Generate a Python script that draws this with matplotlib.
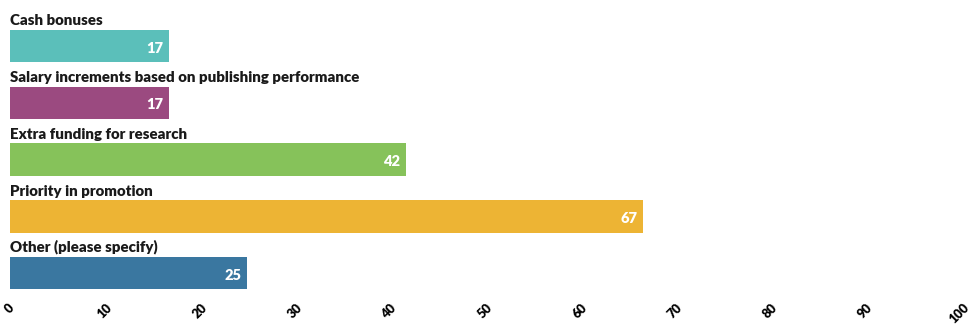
import matplotlib
matplotlib.use("Agg")
import matplotlib.pyplot as plt

# Survey answers (percent of respondents)
categories = [
    "Cash bonuses",
    "Salary increments based on publishing performance",
    "Extra funding for research",
    "Priority in promotion",
    "Other (please specify)",
]
values = [16.7, 16.7, 41.7, 66.7, 25.0]
value_labels = ["17", "17", "42", "67", "25"]
colors = ["#5BBFBA", "#9B4A80", "#86C25A", "#EDB434", "#3A77A0"]
xticks = [0, 10, 20, 30, 40, 50, 60, 70, 80, 90, 100]

plt.rcParams["font.family"] = ["Lato", "DejaVu Sans"]

fig = plt.figure(figsize=(9.72, 3.27), dpi=100)
ax = fig.add_axes([0.0103, 0.095, 0.9770, 0.895])

positions = list(range(len(categories)))
ax.barh(positions, values, height=0.57, color=colors)

for i in positions:
    # category name sits above its bar
    ax.text(0, i - 0.33, categories[i], ha="left", va="bottom",
            fontsize=10.8, fontweight="heavy", color="#1a1a1a")
    # value inside the bar end
    ax.text(values[i] - 0.6, i + 0.04, value_labels[i], ha="right", va="center",
            fontsize=10.5, fontweight="heavy", color="white")

ax.set_xlim(0, 100)
ax.set_ylim(4.4, -0.75)
ax.set_yticks([])
ax.set_xticks(xticks)
ax.set_xticklabels([str(t) for t in xticks], rotation=45, ha="center",
                   fontsize=9.2, fontweight="heavy")
ax.tick_params(axis="x", length=0, pad=4)
for s in ax.spines.values():
    s.set_visible(False)

fig.savefig("out.png", dpi=100)
